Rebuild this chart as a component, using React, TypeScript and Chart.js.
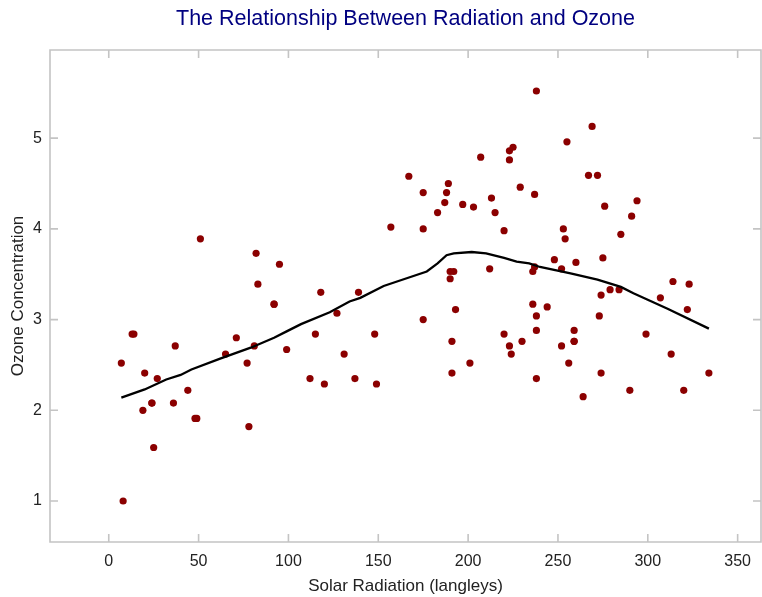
import React, { useEffect, useRef } from "react";
import { Chart, registerables } from "chart.js";

Chart.register(...registerables);

// Scatter: solar radiation (langleys) vs ozone concentration (cube-root scale)
const RADIATION = [
  190, 118, 149, 313, 299, 99, 19, 256, 290, 274,
  65, 334, 307, 78, 322, 44, 8, 320, 25, 92,
  13, 252, 223, 279, 127, 291, 323, 148, 191, 284,
  37, 120, 137, 269, 248, 236, 175, 314, 276, 267,
  272, 175, 264, 175, 48, 260, 274, 285, 187, 220,
  7, 294, 223, 81, 82, 213, 275, 253, 254, 83,
  24, 77, 255, 229, 207, 192, 273, 157, 71, 51,
  115, 244, 190, 259, 36, 212, 238, 215, 203, 225,
  237, 188, 167, 197, 183, 189, 95, 92, 252, 220,
  230, 259, 236, 259, 238, 24, 112, 237, 224, 27,
  238, 201, 238, 14, 139, 49, 20, 193, 191, 131,
  223,
];
const OZONE = [
  3.45, 3.30, 2.29, 2.62, 2.84, 2.67, 2.00, 2.52, 2.22, 2.41,
  2.62, 2.41, 3.24, 1.82, 3.11, 2.22, 1.00, 2.22, 1.59, 3.17,
  2.84, 3.56, 4.86, 3.33, 3.07, 4.14, 3.39, 2.84, 2.76, 3.33,
  2.71, 2.29, 2.35, 5.13, 3.66, 3.17, 4.00, 3.42, 4.25, 4.59,
  4.59, 4.40, 2.15, 3.00, 1.91, 3.63, 3.27, 3.94, 4.29, 3.98,
  2.52, 4.31, 4.76, 2.71, 3.73, 4.34, 3.68, 4.00, 3.89, 3.39,
  2.08, 2.52, 4.96, 4.46, 4.79, 3.53, 3.04, 4.02, 2.80, 3.89,
  2.84, 3.14, 3.53, 2.76, 2.08, 3.56, 5.52, 4.18, 4.24, 4.90,
  4.38, 4.40, 4.58, 4.27, 4.18, 4.50, 3.61, 3.17, 2.71, 2.84,
  2.76, 2.88, 3.53, 2.76, 3.04, 2.08, 2.35, 3.58, 2.62, 2.35,
  2.88, 2.52, 2.35, 2.84, 3.30, 1.91, 2.41, 3.11, 2.41, 2.62,
  2.71,
];

// Smoothed trend line
const SMOOTH_X = [7, 20, 32, 40, 46, 62, 79, 92, 99, 107, 123, 134, 140, 153, 165, 177, 183, 188, 192, 202, 210, 220, 227, 234, 240, 257, 272, 285, 292, 311, 334];
const SMOOTH_Y = [2.14, 2.23, 2.34, 2.39, 2.45, 2.57, 2.69, 2.80, 2.87, 2.95, 3.08, 3.20, 3.24, 3.37, 3.45, 3.53, 3.62, 3.71, 3.73, 3.745, 3.73, 3.68, 3.64, 3.62, 3.58, 3.51, 3.44, 3.36, 3.29, 3.12, 2.90];

const X_TICKS = [0, 50, 100, 150, 200, 250, 300, 350];
const Y_TICKS = [1, 2, 3, 4, 5];

const TITLE = "The Relationship Between Radiation and Ozone";
const X_TITLE = "Solar Radiation (langleys)";
const Y_TITLE = "Ozone Concentration";

const FONT = "'Liberation Sans', Arial, Helvetica, sans-serif";

const framePlugin = {
  id: "frame",
  afterDatasetsDraw(chart: any) {
    const { ctx, chartArea: a, scales } = chart;
    const xs = scales.x;
    const ys = scales.y;
    ctx.save();
    ctx.strokeStyle = "#c4c4c4";
    ctx.lineWidth = 1.6;
    ctx.beginPath();
    ctx.rect(a.left, a.top, a.right - a.left, a.bottom - a.top);
    ctx.stroke();
    const L = 8;
    ctx.beginPath();
    for (const v of X_TICKS) {
      const px = xs.getPixelForValue(v);
      ctx.moveTo(px, a.bottom);
      ctx.lineTo(px, a.bottom - L);
      ctx.moveTo(px, a.top);
      ctx.lineTo(px, a.top + L);
    }
    for (const v of Y_TICKS) {
      const py = ys.getPixelForValue(v);
      ctx.moveTo(a.left, py);
      ctx.lineTo(a.left + L, py);
      ctx.moveTo(a.right, py);
      ctx.lineTo(a.right - L, py);
    }
    ctx.stroke();
    ctx.restore();
  },
};

export default function App() {
  const ref = useRef<HTMLCanvasElement>(null);

  useEffect(() => {
    if (!ref.current) return;
    const scatter = RADIATION.map((x, i) => ({ x, y: OZONE[i] }));
    const smooth = SMOOTH_X.map((x, i) => ({ x, y: SMOOTH_Y[i] }));
    const chart = new Chart(ref.current, {
      type: "scatter",
      data: {
        datasets: [
          {
            type: "line",
            data: smooth,
            borderColor: "#000000",
            borderWidth: 2.3,
            pointRadius: 0,
            tension: 0,
            fill: false,
            order: 0,
          } as any,
          {
            type: "scatter",
            data: scatter,
            backgroundColor: "#8b0000",
            borderColor: "#8b0000",
            borderWidth: 0,
            pointRadius: 3.6,
            order: 1,
          },
        ],
      },
      options: {
        responsive: false,
        animation: false,
        layout: { autoPadding: false, padding: { left: 0, right: 1, top: 0, bottom: 0 } },
        plugins: {
          legend: { display: false },
          tooltip: { enabled: false },
          title: {
            display: true,
            text: TITLE,
            color: "#000080",
            fullSize: false,
            font: { family: FONT, size: 21.5, weight: "normal" },
            padding: { top: 6.3, bottom: 17.9 },
          },
        },
        scales: {
          x: {
            type: "linear",
            min: -32.7,
            max: 363,
            afterBuildTicks: (s: any) => {
              s.ticks = X_TICKS.map((v) => ({ value: v }));
            },
            afterFit: (s: any) => {
              s.height = 55;
            },
            grid: { display: false, drawTicks: false },
            border: { display: false },
            ticks: {
              color: "#222",
              padding: 10,
              maxRotation: 0,
              font: { family: FONT, size: 16 },
            },
            title: {
              display: true,
              text: X_TITLE,
              color: "#222",
              font: { family: FONT, size: 17 },
              padding: { top: 0, bottom: 0 },
            },
          },
          y: {
            type: "linear",
            min: 0.548,
            max: 5.972,
            afterBuildTicks: (s: any) => {
              s.ticks = Y_TICKS.map((v) => ({ value: v }));
            },
            afterFit: (s: any) => {
              s.width = 50;
            },
            grid: { display: false, drawTicks: false },
            border: { display: false },
            ticks: {
              color: "#222",
              padding: 8,
              font: { family: FONT, size: 16 },
            },
            title: {
              display: true,
              text: Y_TITLE,
              color: "#222",
              font: { family: FONT, size: 17 },
              padding: { top: 8.4, bottom: 0 },
            },
          },
        },
      },
      plugins: [framePlugin],
    });
    return () => chart.destroy();
  }, []);

  return (
    <div style={{ position: "absolute", left: 0, top: 0, width: 762, height: 597, background: "#fff" }}>
      <canvas ref={ref} width={762} height={597} style={{ display: "block" }} />
    </div>
  );
}
